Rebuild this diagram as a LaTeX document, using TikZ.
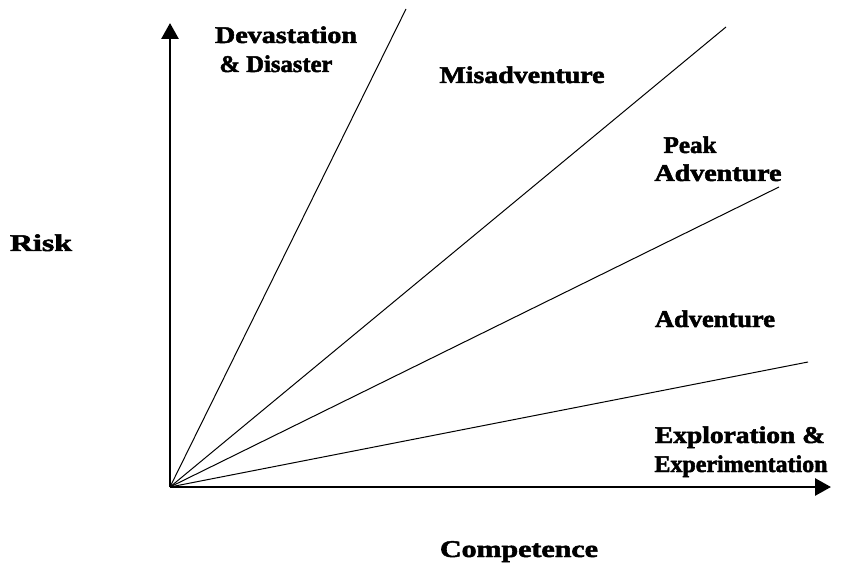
\documentclass[tikz,border=0pt]{standalone}
\usepackage{fontspec}
\usepackage{graphicx}
\setmainfont{Liberation Serif}[BoldFeatures={FakeBold=2}]
\usetikzlibrary{arrows.meta}
\newcommand{\fitw}[2]{\resizebox{#1pt}{\height}{#2}}
\begin{document}
\begin{tikzpicture}[x=1pt,y=-1pt,
 lbl/.style={font=\fontsize{24}{28}\selectfont\bfseries, inner sep=0pt, anchor=base},
 axis/.style={line width=2.8pt, -{Triangle[width=17pt,length=16pt]}},
 ray/.style={line width=1pt}]
\useasboundingbox (0,0) rectangle (841,588);
\coordinate (O) at (170,487);
\coordinate (Y) at (170,23);
\coordinate (X) at (831,487);
\coordinate (r1) at (406,9);
\coordinate (r2) at (726,27);
\coordinate (r3) at (779,187);
\coordinate (r4) at (808,362);
\draw[ray] (O) -- (r1);
\draw[ray] (O) -- (r2);
\draw[ray] (O) -- (r3);
\draw[ray] (O) -- (r4);
\draw[axis] (O) -- (Y);
\draw[axis] (O) -- (X);
\node[lbl] (dev) at (286,43) {\fitw{142}{Devastation}};
\node[lbl] (dis) at (276,72) {\fitw{113}{\& Disaster}};
\node[lbl] (mis) at (522,83) {\fitw{165}{Misadventure}};
\node[lbl] (peak) at (690,153) {\fitw{53}{Peak}};
\node[lbl] (padv) at (718,181) {\fitw{127}{Adventure}};
\node[lbl] (adv) at (715,327) {\fitw{120}{Adventure}};
\node[lbl] (expl) at (740,443) {\fitw{170}{Exploration \&}};
\node[lbl] (expe) at (741,472) {\fitw{173}{Experimentation}};
\node[lbl] (risk) at (41,251) {\fitw{62}{Risk}};
\node[lbl] (comp) at (519,557) {\fitw{158}{Competence}};
\end{tikzpicture}
\end{document}
